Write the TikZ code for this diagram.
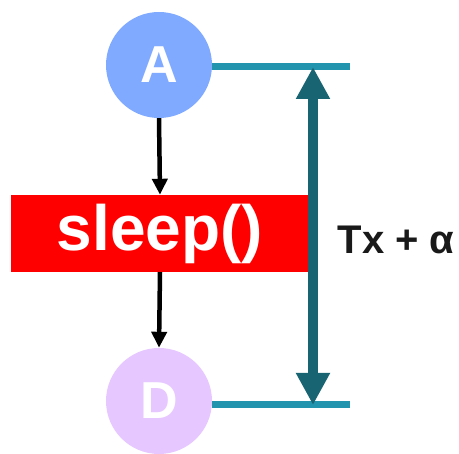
\documentclass[tikz,border=0pt]{standalone}
\usepackage{fontspec}
\setmainfont{Liberation Sans}
\usetikzlibrary{arrows.meta}
\definecolor{cA}{HTML}{80AAFF}
\definecolor{cD}{HTML}{E6C7FF}
\definecolor{tealline}{HTML}{2394AD}
\definecolor{darkteal}{HTML}{186472}
\definecolor{redbox}{HTML}{FF0000}
\begin{document}
\begin{tikzpicture}[x=1pt,y=1pt,
  circ/.style={circle,inner sep=0pt,minimum size=106pt,text=white,font=\bfseries\fontsize{52}{52}\selectfont},
  flow/.style={line width=4.5pt,-{Triangle[length=16pt,width=15pt]}},
  guide/.style={line width=7pt,draw=tealline},
  dim/.style={line width=10pt,draw=darkteal,{Triangle[length=32pt,width=32pt]}-{Triangle[length=32pt,width=32pt]}}]
\useasboundingbox (0,0) rectangle (459,-454);
\node[circ,fill=cA] (A) at (159,-65) {A};
\node[circ,fill=cD] (D) at (159,-401) {D};
\node[fill=redbox,minimum width=298pt,minimum height=77pt,inner sep=0pt,text=white,font=\bfseries\fontsize{64}{64}\selectfont] (S) at (160,-233.5) {sleep()};
\node[font=\bfseries\fontsize{40}{40}\selectfont,text=black!90] (L) at (396,-240) {Tx + α};
\coordinate (eA) at (350,-67);
\coordinate (eD) at (350,-405);
\coordinate (dA) at (313,-67);
\coordinate (dD) at (313,-405);
\draw[flow] (A.south) -- (S.north);
\draw[flow] (S.south) -- (D.north);
\draw[guide] (A.east|-eA) -- (eA);
\draw[guide] (D.east|-eD) -- (eD);
\draw[dim] (dA) -- (dD);
\end{tikzpicture}
\end{document}
